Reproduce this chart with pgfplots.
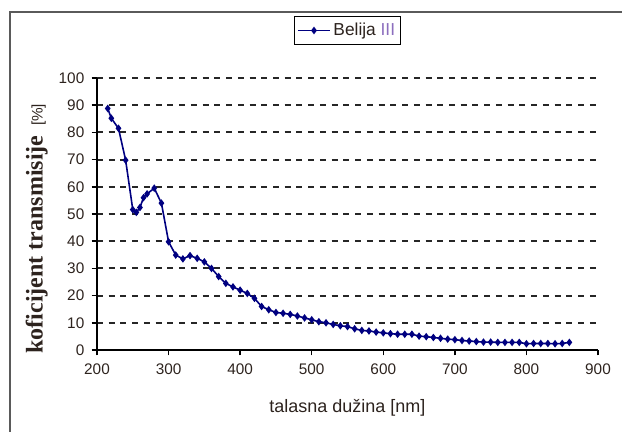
\documentclass[border=0pt]{standalone}
\usepackage{pgfplots}
\pgfplotsset{compat=1.18}
\usepackage{fontspec}
\setmainfont{Liberation Serif}
\setsansfont{Liberation Sans}

\definecolor{serieblue}{RGB}{0,0,128}
\definecolor{textdark}{RGB}{45,35,30}
\definecolor{framegray}{RGB}{90,90,90}
\definecolor{romanviolet}{RGB}{140,110,190}

\pgfplotstableread{
nm    T
215   88.8
220   85.2
230   81.5
240   69.8
250   51.6
255   50.6
260   52.4
265   56.0
270   57.4
280   59.5
290   54.0
300   39.8
310   34.9
320   33.5
330   34.7
340   33.7
350   32.4
360   30.0
370   27.0
380   24.5
390   23.2
400   22.0
410   20.8
420   19.0
430   16.0
440   14.8
450   13.8
460   13.5
470   13.1
480   12.5
490   11.8
500   11.1
510   10.4
520   10.0
530    9.4
540    8.9
550    8.6
560    7.8
570    7.2
580    7.0
590    6.6
600    6.3
610    6.0
620    5.8
630    5.8
640    5.8
650    5.1
660    4.9
670    4.6
680    4.3
690    4.0
700    3.8
710    3.5
720    3.3
730    3.1
740    2.9
750    2.9
760    2.8
770    2.8
780    2.8
790    2.8
800    2.3
810    2.4
820    2.4
830    2.4
840    2.3
850    2.4
860    2.8
}\belija

\begin{document}
\begin{tikzpicture}
\useasboundingbox (0,0) rectangle (466.5pt,-324pt);
\begin{scope}
\clip (0,0) rectangle (466.5pt,-324pt);
% chart area frame, running off the page at right and bottom
\draw[framegray, line width=1.6pt] (7.2pt,-340pt) -- (7.2pt,-9.2pt) -- (480pt,-9.2pt);
\end{scope}

\begin{axis}[
  at={(72.75pt,-262.5pt)}, anchor=origin,
  scale only axis,
  width=375.75pt, height=204pt,
  xmin=200, xmax=900, ymin=0, ymax=100,
  xtick={200,300,...,900},
  ytick={0,10,...,100},
  axis x line=bottom, axis y line=left,
  axis line style={-, line width=1.1pt, black},
  tick align=outside,
  major tick length=4pt,
  tick style={line width=1.1pt, black},
  ymajorgrids,
  major grid style={black!85, line width=1.4pt, dash pattern=on 4.5pt off 4.3pt},
  ticklabel style={font=\sffamily\fontsize{11.5}{11.5}\selectfont, text=textdark},
  /pgf/number format/assume math mode=true,
  /pgf/number format/1000 sep={},
  xticklabel style={yshift=-3pt},
  yticklabel style={xshift=-2pt},
  legend style={
    at={(0.5,1.1746)}, anchor=center,
    draw=black, line width=1.1pt,
    font=\sffamily\fontsize{13}{13}\selectfont,
    text=textdark,
    inner xsep=2pt, inner ysep=3pt,
    legend cell align=left,
  },
  legend image code/.code={
    \draw[mark repeat=2, mark phase=2, #1]
      plot coordinates {(0pt,0pt) (12pt,0pt) (24pt,0pt)};
  },
]
\addplot[serieblue, line width=1.2pt, mark=diamond*, mark size=1.9pt,
  mark options={solid, fill=serieblue}] table[x=nm, y=T] {\belija};
\addlegendentry{Belija \textcolor{romanviolet}{III}}
\end{axis}

% axis titles
\node[font=\sffamily\fontsize{13.5}{13.5}\selectfont, text=textdark]
  at (260.5pt,-305.5pt) {talasna dužina [nm]};
\node[rotate=90, text=textdark] at (27.5pt,-171.5pt)
  {\fontsize{18}{18}\selectfont\bfseries koficijent transmisije\hspace{0.4em}{\sffamily\mdseries\fontsize{11.5}{11.5}\selectfont [\%]}};
\end{tikzpicture}
\end{document}
